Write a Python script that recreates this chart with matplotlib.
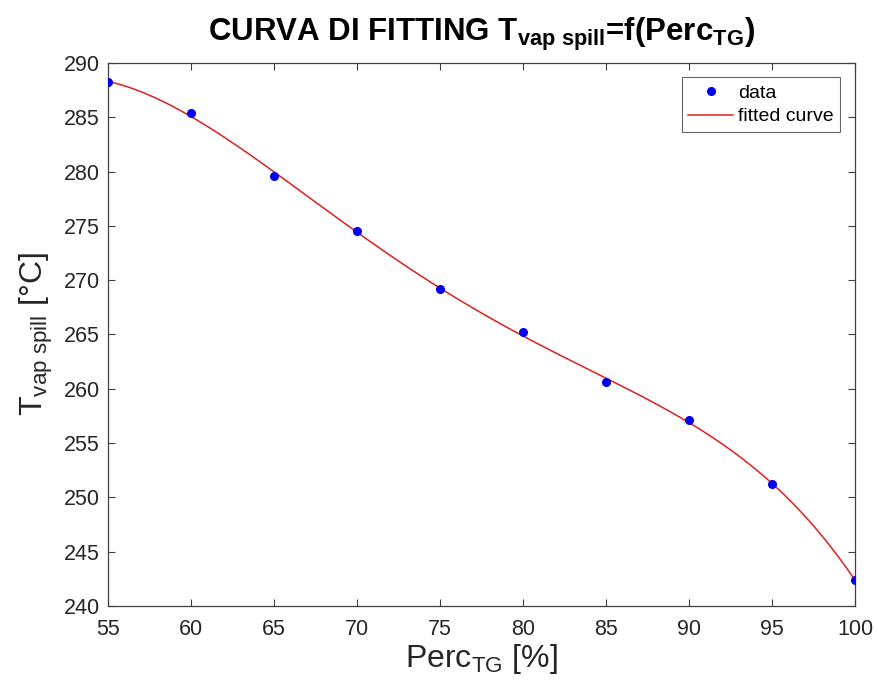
import numpy as np
import matplotlib
matplotlib.use("Agg")
import matplotlib.pyplot as plt

plt.rcParams['font.family'] = ['Liberation Sans', 'DejaVu Sans']
plt.rcParams['mathtext.fontset'] = 'custom'
plt.rcParams['mathtext.rm'] = 'Liberation Sans'
plt.rcParams['mathtext.it'] = 'Liberation Sans'
plt.rcParams['mathtext.bf'] = 'Liberation Sans:bold'

# Load percentage of the turbine group and spill steam temperature
perc_tg = [55, 60, 65, 70, 75, 80, 85, 90, 95, 100]
t_vap_spill = [288.2, 285.4, 279.6, 274.5, 269.2, 265.2, 260.6, 257.1, 251.2, 242.4]

x_ticks = [55, 60, 65, 70, 75, 80, 85, 90, 95, 100]
y_ticks = [240, 245, 250, 255, 260, 265, 270, 275, 280, 285, 290]

# Polynomial fit of the measured points
coeffs = np.polyfit(perc_tg, t_vap_spill, 4)
x_fit = np.linspace(min(perc_tg), max(perc_tg), 400)
y_fit = np.polyval(coeffs, x_fit)

fig = plt.figure(figsize=(8.79, 6.99), dpi=100)
ax = fig.add_axes([0.1229, 0.133, 0.8498, 0.777])

ax.plot(perc_tg, t_vap_spill, 'o', color=(0, 0, 0.95), markersize=5.5, label='data', zorder=3)
ax.plot(x_fit, y_fit, '-', color=(0.88, 0.12, 0.12), linewidth=1.1, label='fitted curve', zorder=2)

ax.set_xlim(55, 100)
ax.set_ylim(240, 290)
ax.set_xticks(x_ticks)
ax.set_yticks(y_ticks)

axis_col = '#262626'
for s in ax.spines.values():
    s.set_color('#404040')
    s.set_linewidth(0.9)
ax.tick_params(direction='in', top=True, right=True, length=5, width=0.8,
               colors='#404040', labelcolor=axis_col, labelsize=15.5)
ax.tick_params(axis='x', pad=9)
ax.tick_params(axis='y', pad=6)

ax.set_xlabel(r'Perc$_{\mathrm{TG}}$ [%]', fontsize=23, color=axis_col, labelpad=2)
ax.set_ylabel(r'T$_{\mathrm{vap\ spill}}$ [°C]', fontsize=23, color=axis_col, labelpad=6)
ax.set_title(r'CURVA DI FITTING T$_{\mathbf{vap\ spill}}$=f(Perc$_{\mathbf{TG}}$)',
             fontsize=22.5, fontweight='bold', color='black', pad=16)

leg = ax.legend(loc='upper right', fontsize=14, frameon=True, fancybox=False,
                edgecolor='#404040', handlelength=2.3, handletextpad=0.25,
                borderpad=0.35, labelspacing=0.3, borderaxespad=0.75)
leg.get_frame().set_linewidth(0.8)

fig.savefig('out.png', dpi=100)
